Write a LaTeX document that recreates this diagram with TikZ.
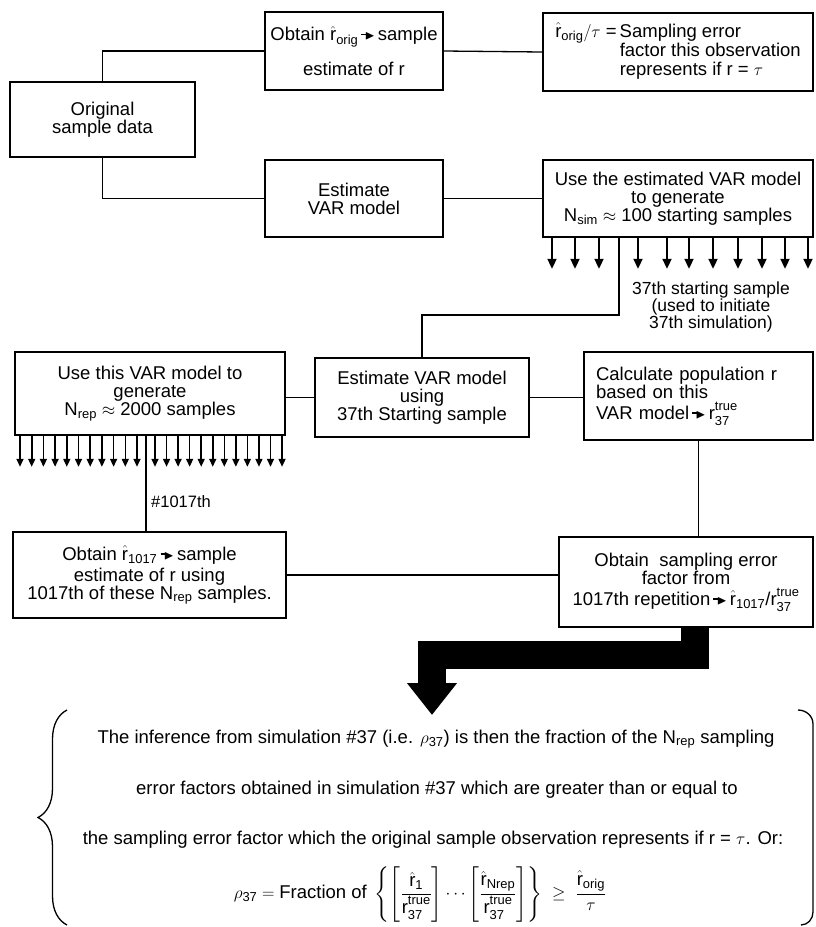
\documentclass[tikz,border=0pt]{standalone}
\usepackage{amsmath,amssymb}
\usepackage{fontspec}
\setmainfont{Liberation Sans}
\usepackage{tikz}
\usetikzlibrary{arrows.meta,positioning,calc,decorations.pathreplacing}

\newcommand{\rhat}{\hat{\text{r}}}
\newcommand{\rtrue}{\text{r}^{\vphantom{g}\text{true}}_{\vphantom{A}\text{37}}}
\newcommand{\ptr}{\,\rule[0.3em]{0.3em}{0.1em}\kern-0.12em\raisebox{0.06em}{$\scriptstyle\blacktriangleright$}\,}
\newcommand{\boxfont}{\fontsize{18.5}{18}\selectfont}

\begin{document}
\begin{tikzpicture}[x=1pt, y=-1pt,
  every node/.style={font=\boxfont},
  box/.style={rectangle, draw, line width=1.6pt, align=center, inner sep=2pt},
  link/.style={line width=1.3pt},
  fanbig/.style={line width=2pt, -{Triangle[length=10pt,width=9pt]}},
  fansmall/.style={line width=1.6pt, -{Triangle[length=8pt,width=7pt]}},
  bigarrow/.style={line width=28pt, -{Triangle[length=32pt,width=48pt]}},
  tag/.style={font=\fontsize{17.5}{15}\selectfont, align=center},
  prose/.style={font=\fontsize{18.5}{20}\selectfont}
]
\useasboundingbox (0,0) rectangle (815,927);

% Top part - original data and the sample estimate
\node[box, minimum width=185pt, minimum height=75pt] (orig) at (102.5,119.5) {Original\\sample data};
\node[box, minimum width=178pt, minimum height=78pt] (obtain) at (354,51) {Obtain $\rhat_{\text{orig}}$\ptr sample\\[14pt]estimate of r};
\node[box, minimum width=270pt, minimum height=78pt, align=left] (tau) at (678,52)
  {\begin{tabular}{@{}l@{\,}l@{}}$\rhat_{\text{orig}}/\tau$ =&Sampling error\\&factor this observation\\&represents if r = $\tau$\end{tabular}};

% VAR model and starting samples
\node[box, minimum width=178pt, minimum height=77pt] (estvar) at (354,198.5) {Estimate\\VAR model};
\node[box, minimum width=270pt, minimum height=77pt] (usest) at (678,198.5) {Use the estimated VAR model\\to generate\\N$_{\text{sim}}\approx$ 100 starting samples};
\node[tag] (tag37) at (711,307) {37th starting sample\\(used to initiate\\37th simulation)};

% Middle row - simulation 37
\node[box, minimum width=270pt, minimum height=83pt] (usethis) at (150,393.5) {Use this VAR model to\\generate\\N$_{\text{rep}}\approx$ 2000 samples};
\node[box, minimum width=214pt, minimum height=79pt] (est37) at (422,397.5) {Estimate VAR model\\using\\37th Starting sample};
\node[box, minimum width=229pt, minimum height=88pt, align=left, inner xsep=12pt, text width=205pt] (calc) at (698.5,396)
  {Calculate population r\\based on this\\[3pt]VAR model\ptr$\rtrue$};

% Lower row - repetition 1017
\node[tag, font=\fontsize{16.5}{15}\selectfont] (tag1017) at (181,502) {\#1017th};
\node[box, minimum width=273pt, minimum height=86pt] (obt1017) at (149.5,575) {Obtain $\rhat_{\text{1017}}$\ptr sample\\[3pt]estimate of r using\\1017th of these N$_{\text{rep}}$ samples.};
\node[box, minimum width=254pt, minimum height=90pt] (samp) at (686,582) {Obtain\ \ sampling error\\factor from\\[3pt]1017th repetition\ptr$\rhat_{\text{1017}}$/$\rtrue$};

% Conclusion text
\node[prose] (concl1) at (436,739) {The inference from simulation \#37 (i.e. $\rho_{\text{37}}$) is then the fraction of the N$_{\text{rep}}$ sampling};
\node[prose] (concl2) at (437,790) {error factors obtained in simulation \#37 which are greater than or equal to};
\node[prose] (concl3) at (433,840) {the sampling error factor which the original sample observation represents if r = $\tau$. Or:};
\node[prose] (rule37) at (420,894) {$\rho_{\text{37}} = \text{Fraction of}\ \left\{\left[\dfrac{\rhat_{\text{1}}}{\rtrue}\right]\cdots\left[\dfrac{\rhat_{\text{Nrep}}}{\rtrue}\right]\right\}\ \geq\ \dfrac{\rhat_{\text{orig}}}{\tau}$};

% Lines - original data to first boxes
\draw[link] (orig.north) |- (obtain.west);
\draw[link] (orig.south) |- (estvar.west);
\draw[link] (obtain.east) -- (tau.west);
\draw[link] (estvar.east) -- (usest.west);

% Arrows - starting samples
\foreach \x [count=\i] in {552,575,599,638,667,689,713,738,762,785,808} {
  \coordinate (simtop\i) at (\x,0);
  \draw[fanbig] (usest.south -| simtop\i) -- ++(0,31);
}
\coordinate (sim37) at (619,0);
\coordinate (turn37) at (619,315);
\draw[link] (usest.south -| sim37) -- (turn37) -| (est37.north);

% Lines - simulation 37
\draw[link] (est37.west) -- (est37.west -| usethis.east);
\draw[link] (est37.east) -- (est37.east -| calc.west);

% Arrows - repetitions
\foreach \i in {0,...,10} {
  \coordinate (repl\i) at (20+11.7*\i,0);
  \draw[fansmall] (usethis.south -| repl\i) -- ++(0,31);
}
\foreach \i in {0,...,11} {
  \coordinate (repr\i) at (155+11.55*\i,0);
  \draw[fansmall] (usethis.south -| repr\i) -- ++(0,31);
}
\coordinate (rep1017) at (146,0);
\draw[link] (usethis.south -| rep1017) -- (obt1017.north -| rep1017);

% Lines - repetition 1017
\draw[link] (calc.south) -- (calc.south |- samp.north);
\draw[link] (obt1017.east) -- (obt1017.east -| samp.west);

% Thick arrow down to the conclusion
\coordinate (dropbend) at (695,655);
\coordinate (landing) at (432,715);
\draw[bigarrow] (samp.south -| dropbend) -- (dropbend) -| (landing);

% Brackets round the conclusion
\draw[line width=1.3pt, decorate, decoration={brace, amplitude=29pt}] (67,925) -- (67,710);
\draw[line width=1.3pt] (798,710) to[out=0, in=90] (813,724) -- (813,912) to[out=-90, in=0] (801,925);

\end{tikzpicture}
\end{document}
